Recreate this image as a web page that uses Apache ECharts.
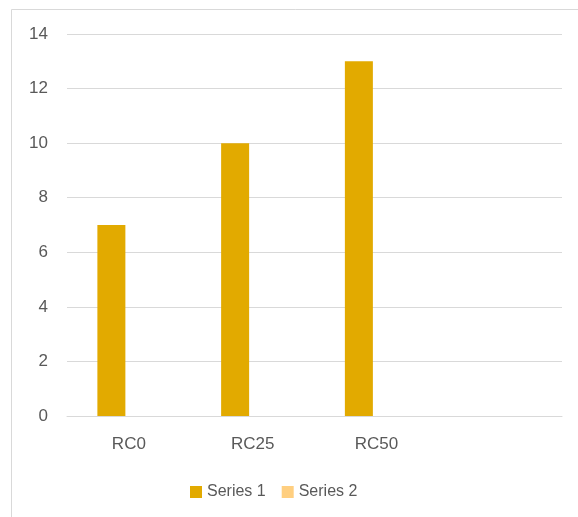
<!DOCTYPE html>
<html lang="en">
<head>
    <meta charset="UTF-8">
    <title>chart</title>
    <script src="https://cdn.jsdelivr.net/npm/echarts@6/dist/echarts.min.js"></script>
    <style>
        html, body{
            margin: 0;
            padding: 0;
            background: #fff;
        }
        #main{
            width: 578px;
            height: 517px;
        }
    </style>
</head>
<body>
    <div id="main"></div>
<script>
    // data
    var categories = ['RC0', 'RC25', 'RC50', ''];
    var series1 = [7, 10, 13, null];
    var series2 = [null, null, null, null];
    var yTicks = { min: 0, max: 14, interval: 2 };

    var myChart = echarts.init(document.getElementById('main'));
    var font = 'Liberation Sans, Arial, sans-serif';

    var option = {
        animation: false,
        backgroundColor: '#fff',
        graphic: [{
            type: 'rect',
            shape: { x: 11.5, y: 9.5, width: 620, height: 560 },
            style: { fill: 'none', stroke: '#d9d9d9', lineWidth: 1 },
            silent: true
        }],
        grid: {
            left: 67,
            right: 16,
            top: 34,
            bottom: 101
        },
        legend: {
            data: ['Series 1', 'Series 2'],
            left: 185,
            top: 479,
            itemWidth: 12,
            itemHeight: 12,
            itemGap: 16,
            icon: 'rect',
            textStyle: { color: '#595959', fontSize: 16, fontFamily: font }
        },
        xAxis: {
            type: 'category',
            data: categories,
            axisLine: { show: true, lineStyle: { color: '#d9d9d9' } },
            axisTick: { show: false },
            axisLabel: { color: '#595959', fontSize: 17, fontFamily: font, margin: 20 }
        },
        yAxis: {
            type: 'value',
            min: yTicks.min,
            max: yTicks.max,
            interval: yTicks.interval,
            axisLine: { show: false },
            axisTick: { show: false },
            splitLine: { lineStyle: { color: '#d9d9d9' } },
            axisLabel: { color: '#595959', fontSize: 17, fontFamily: font, margin: 19 }
        },
        series: [{
            name: 'Series 1',
            type: 'bar',
            data: series1,
            itemStyle: { color: '#e2aa00' },
            barWidth: 28,
            barGap: '25%'
        }, {
            name: 'Series 2',
            type: 'bar',
            data: series2,
            itemStyle: { color: '#ffcf80' },
            barWidth: 28
        }]
    };
    myChart.setOption(option);
</script>
</body>
</html>
